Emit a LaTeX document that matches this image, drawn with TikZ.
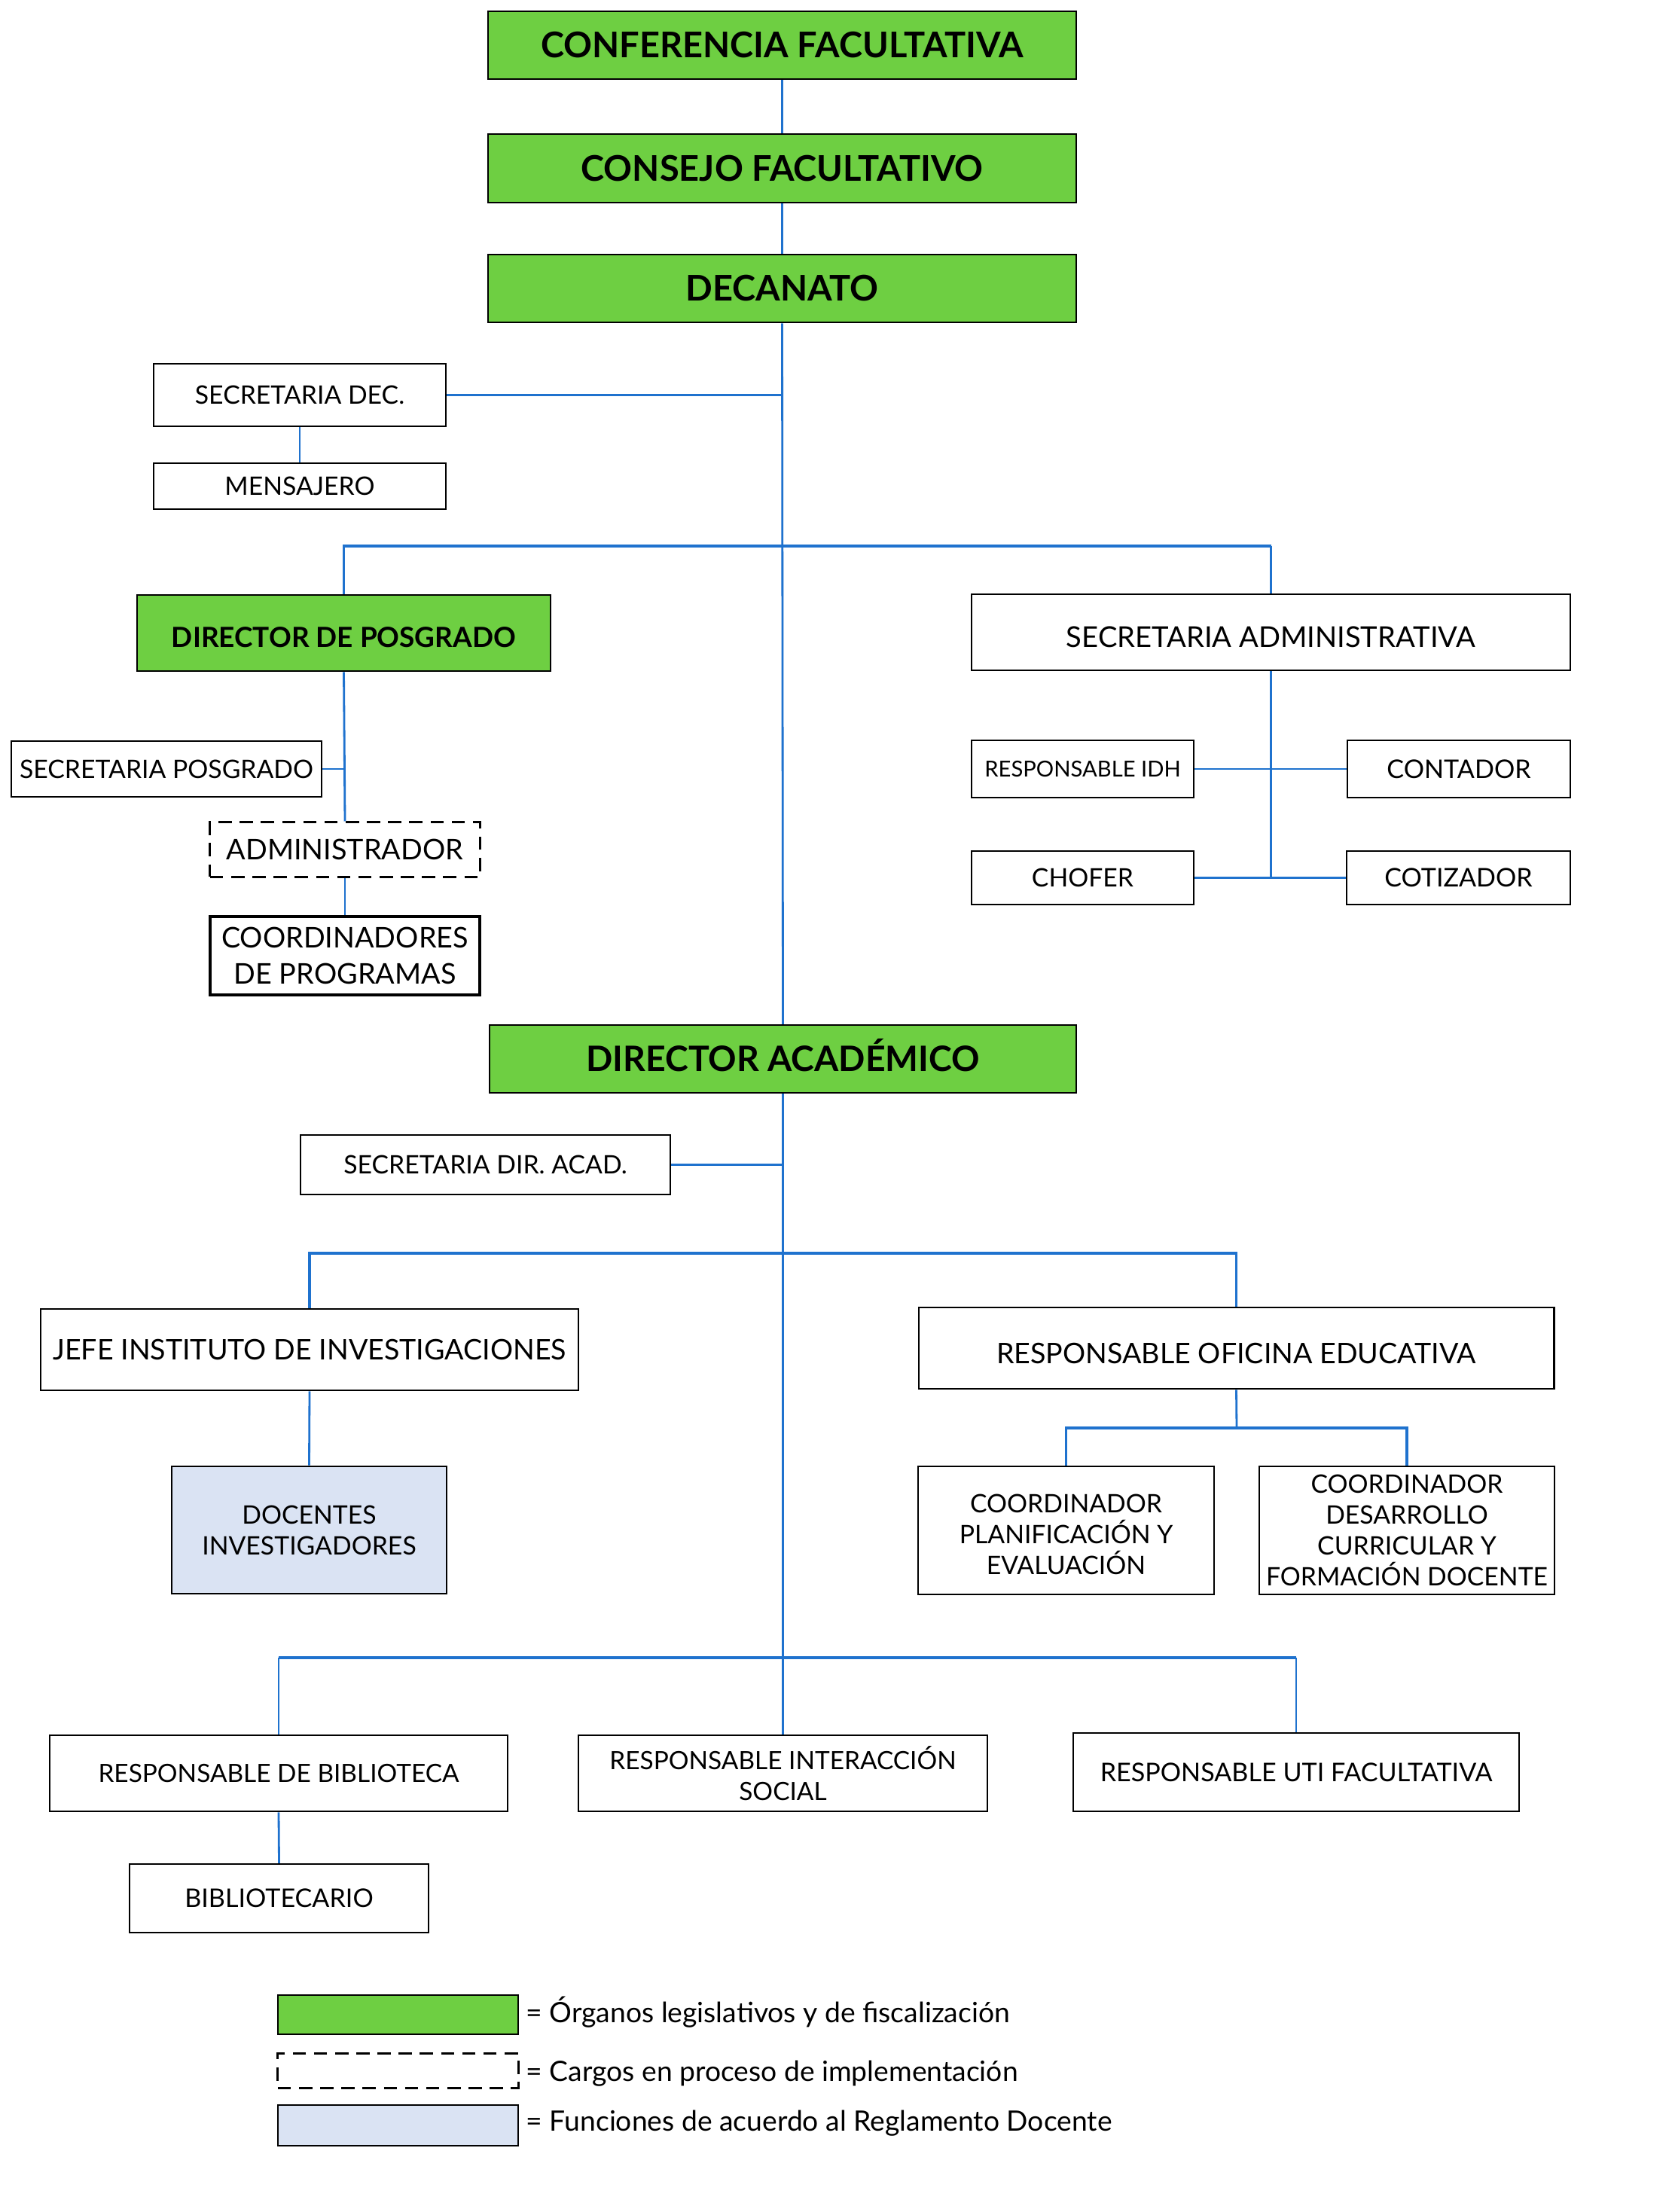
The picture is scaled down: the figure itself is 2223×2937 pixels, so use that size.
\documentclass[tikz,border=0pt]{standalone}
\usepackage{fontspec}
\setmainfont{Lato}
\usetikzlibrary{positioning}
\definecolor{orggreen}{RGB}{110,207,66}
\definecolor{orgblue}{RGB}{31,114,206}
\definecolor{lightblue}{RGB}{218,227,243}
\newcommand{\fs}[1]{\fontsize{#1}{1.22\dimexpr #1pt\relax}\selectfont}
\newcommand{\fsw}[1]{\fontsize{#1}{1.29\dimexpr #1pt\relax}\selectfont}
\tikzset{
  box/.style={draw=black, line width=0.7pt, fill=white, inner sep=0pt, align=center, text=black},
  greenbox/.style={box, fill=orggreen, font=\bfseries\fs{13.35}},
  bluebox/.style={box, fill=lightblue},
  dashbox/.style={box, line width=0.85pt, dash pattern=on 5pt off 3pt},
  conn/.style={draw=orgblue, line width=0.8pt},
  branch/.style={draw=orgblue, line width=1.1pt},
}
\begin{document}
\begin{tikzpicture}[x=0.01cm, y=-0.01cm]
\useasboundingbox (0,0) rectangle (2223,2937);
% top chain
\node[greenbox, minimum width=7.81cm, minimum height=0.90cm] (conf) at (1038.5,60) {CONFERENCIA FACULTATIVA};
\node[greenbox, minimum width=7.81cm, minimum height=0.91cm] (consejo) at (1038.5,223.5) {CONSEJO FACULTATIVO};
\node[greenbox, minimum width=7.81cm, minimum height=0.90cm] (decanato) at (1038.5,383) {DECANATO};
% secretaria decanato
\node[box, font=\fs{9.6}, minimum width=3.88cm, minimum height=0.83cm] (secDec) at (398,524.5) {SECRETARIA DEC.};
\node[box, font=\fs{9.6}, minimum width=3.88cm, minimum height=0.61cm] (mensajero) at (398,645.5) {MENSAJERO};
% posgrado
\node[greenbox, font=\bfseries\fs{10.5}, minimum width=5.49cm, minimum height=1.01cm, text height=11pt, text depth=0pt] (dirPos) at (456.5,840.5) {DIRECTOR DE POSGRADO};
\node[box, font=\fs{9.6}, minimum width=4.12cm, minimum height=0.74cm] (secPos) at (221,1021) {SECRETARIA POSGRADO};
\node[dashbox, font=\fs{10.75}, minimum width=3.58cm, minimum height=0.72cm] (admin) at (458,1128) {ADMINISTRADOR};
\node[box, line width=1.1pt, font=\fsw{10.75}, minimum width=3.58cm, minimum height=1.04cm] (coordProg) at (458,1269) {COORDINADORES\\DE PROGRAMAS};
% administrativa
\node[box, font=\fs{10.85}, minimum width=7.95cm, minimum height=1.01cm, text height=11.5pt, text depth=0pt] (secAdm) at (1687.5,839.5) {SECRETARIA ADMINISTRATIVA};
\node[box, font=\fs{8.3}, minimum width=2.95cm, minimum height=0.76cm] (idh) at (1437.5,1021) {RESPONSABLE IDH};
\node[box, font=\fs{9.7}, minimum width=2.96cm, minimum height=0.76cm] (contador) at (1937,1021) {CONTADOR};
\node[box, font=\fs{9.6}, minimum width=2.95cm, minimum height=0.71cm] (chofer) at (1437.5,1165.5) {CHOFER};
\node[box, font=\fs{9.7}, minimum width=2.97cm, minimum height=0.71cm] (cotizador) at (1936.5,1165.5) {COTIZADOR};
% academico
\node[greenbox, font=\bfseries\fs{13.2}, minimum width=7.79cm, minimum height=0.90cm, text height=9.5pt, text depth=0pt] (dirAcad) at (1039.5,1406) {DIRECTOR ACADÉMICO};
\node[box, font=\fs{9.6}, minimum width=4.91cm, minimum height=0.79cm] (secDirAcad) at (644.5,1546.5) {SECRETARIA DIR. ACAD.};
\node[box, font=\fs{10.7}, minimum width=7.14cm, minimum height=1.08cm] (jefe) at (411,1792) {JEFE INSTITUTO DE INVESTIGACIONES};
\node[box, font=\fs{10.7}, minimum width=8.43cm, minimum height=1.08cm, text height=11.5pt, text depth=0pt] (oficina) at (1641.5,1790) {RESPONSABLE OFICINA EDUCATIVA};
\node[bluebox, font=\fs{9.6}, minimum width=3.65cm, minimum height=1.69cm] (docentes) at (410.5,2031.5) {DOCENTES\\INVESTIGADORES};
\node[box, font=\fs{9.6}, minimum width=3.93cm, minimum height=1.70cm, text height=33.5pt, text depth=0pt] (planif) at (1415.5,2032) {COORDINADOR\\PLANIFICACIÓN Y\\EVALUACIÓN};
\node[box, font=\fs{9.6}, minimum width=3.92cm, minimum height=1.70cm] (desarrollo) at (1868,2032) {COORDINADOR\\DESARROLLO\\CURRICULAR Y\\FORMACIÓN DOCENTE};
\node[box, font=\fs{9.5}, minimum width=6.08cm, minimum height=1.01cm] (biblioteca) at (370,2354.5) {RESPONSABLE DE BIBLIOTECA};
\node[box, font=\fs{9.5}, minimum width=5.43cm, minimum height=1.01cm] (interaccion) at (1039.5,2354.5) {RESPONSABLE INTERACCIÓN\\SOCIAL};
\node[box, font=\fs{9.7}, minimum width=5.92cm, minimum height=1.04cm] (uti) at (1721,2353) {RESPONSABLE UTI FACULTATIVA};
\node[box, font=\fs{9.7}, minimum width=3.97cm, minimum height=0.91cm] (bibliotecario) at (370.5,2520.5) {BIBLIOTECARIO};
% legend
\node[greenbox, minimum width=3.19cm, minimum height=0.52cm] (legGreen) at (528.5,2675) {};
\node[dashbox, minimum width=3.19cm, minimum height=0.46cm] (legDash) at (528.5,2749) {};
\node[bluebox, minimum width=3.19cm, minimum height=0.54cm] (legBlue) at (528.5,2822) {};
\node[anchor=west, inner sep=0pt, font=\fs{10.6}] (legT1) at (698,2672) {= Órganos legislativos y de fiscalización};
\node[anchor=west, inner sep=0pt, font=\fs{10.6}] (legT2) at (698,2753) {= Cargos en proceso de implementación};
\node[anchor=west, inner sep=0pt, font=\fs{10.6}] (legT3) at (698,2819) {= Funciones de acuerdo al Reglamento Docente};
% junctions
\coordinate (j1) at (1039,725);
\coordinate (j2) at (1040,1664);
\coordinate (j3) at (1642,1896);
\coordinate (j4) at (1040,2201);
% connectors
\draw[conn] (conf.south) -- (consejo.north);
\draw[conn] (consejo.south) -- (decanato.north);
\draw[conn] (decanato.south) -- (dirAcad.north);
\draw[conn] (secDec.east) -- (secDec.east -| decanato.south);
\draw[conn] (secDec.south) -- (mensajero.north);
\draw[branch] (dirPos.north) -- (dirPos.north |- j1) -- (secAdm.north |- j1);
\draw[conn] (secAdm.north |- j1) -- (secAdm.north);
\draw[conn] (dirPos.south) -- (admin.north);
\draw[conn] (secPos.east) -- (secPos.east -| dirPos.south);
\draw[conn] (admin.south) -- (coordProg.north);
\draw[conn] (secAdm.south) -- (secAdm.south |- chofer.east);
\draw[conn] (idh.east) -- (contador.west);
\draw[conn] (chofer.east) -- (cotizador.west);
\draw[conn] (secDirAcad.east) -- (secDirAcad.east -| dirAcad.south);
\draw[conn] (dirAcad.south) -- (interaccion.north);
\draw[branch] (jefe.north) -- (jefe.north |- j2) -- (oficina.north |- j2) -- (oficina.north);
\draw[conn] (jefe.south) -- (docentes.north);
\draw[conn] (oficina.south) -- (j3);
\draw[branch] (planif.north) -- (planif.north |- j3) -- (desarrollo.north |- j3) -- (desarrollo.north);
\draw[branch] (biblioteca.north |- j4) -- (uti.north |- j4);
\draw[conn] (biblioteca.north |- j4) -- (biblioteca.north);
\draw[conn] (uti.north |- j4) -- (uti.north);
\draw[conn] (biblioteca.south) -- (bibliotecario.north);
\end{tikzpicture}
\end{document}
